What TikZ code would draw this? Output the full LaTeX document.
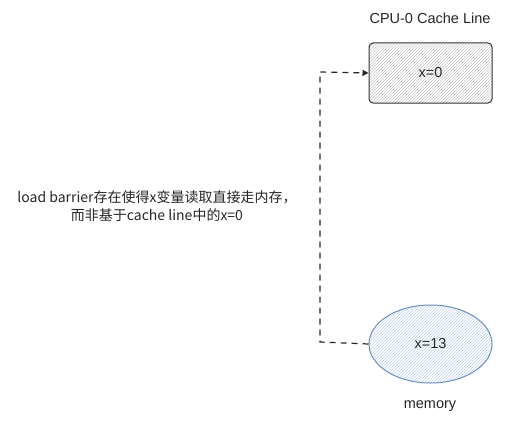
\documentclass[tikz,border=0pt]{standalone}
\usepackage{fontspec}
\setmainfont{Liberation Sans}
\newfontfamily\cjk{Noto Sans CJK SC}
\usetikzlibrary{patterns,arrows.meta,shapes.geometric}
\definecolor{memfill}{HTML}{BFD1EC}
\definecolor{memline}{HTML}{6C8EBF}
\definecolor{boxline}{HTML}{333333}
\tikzset{
  lbl/.style={font=\fontsize{14.5}{17}\selectfont, text=black!85},
  cachebox/.style={draw=boxline, line width=1pt, rounded corners=4pt, minimum width=123pt, minimum height=60pt, pattern=north east lines, pattern color=black!22, lbl},
  membox/.style={ellipse, draw=memline, line width=1pt, minimum width=123pt, minimum height=78pt, pattern=north east lines, pattern color=memfill, lbl},
  conn/.style={dashed, dash pattern=on 6pt off 5pt, line width=1.2pt, black!85},
}
\begin{document}
\begin{tikzpicture}[x=1pt,y=-1pt]
\useasboundingbox (0,0) rectangle (505,420);
\node[lbl] (title) at (430,18) {CPU-0 Cache Line};
\node[cachebox] (cache) at (430.5,73) {x=0};
\node[membox] (mem) at (430.5,344) {x=13};
\node[lbl] (memlbl) at (430,406) {memory};
\node[lbl, align=center, font=\fontsize{14}{18}\selectfont\cjk] (note) at (157,206) {load barrier存在使得x变量读取直接走内存，\\而非基于cache line中的x=0};
\coordinate (c1) at (320,342);
\coordinate (c2) at (320,72);
\draw[conn, -{Triangle[length=6pt,width=6pt]}] (mem.west) -- (c1) -- (c2) -- (cache.west);
\end{tikzpicture}
\end{document}
